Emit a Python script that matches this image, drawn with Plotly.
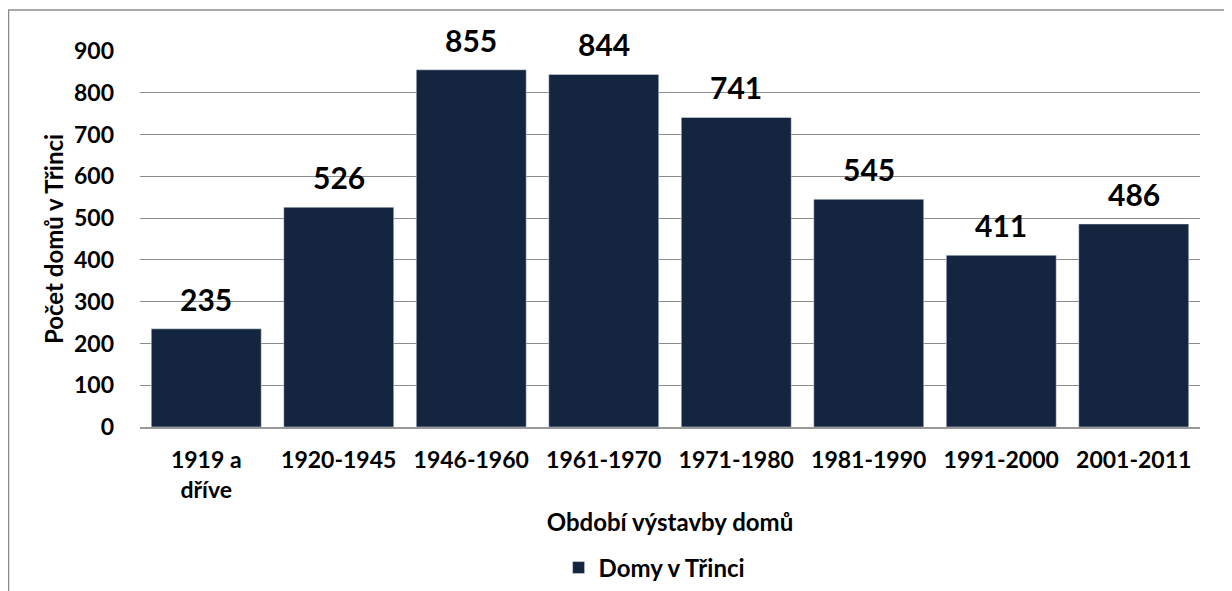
import plotly.graph_objects as go

categories = ["1919 a<br>dříve", "1920-1945", "1946-1960", "1961-1970", "1971-1980", "1981-1990", "1991-2000", "2001-2011"]
values = [235, 526, 855, 844, 741, 545, 411, 486]
series_name = "Domy v Třinci"
y_ticks = [0, 100, 200, 300, 400, 500, 600, 700, 800, 900]

FONT = "Lato, 'Open Sans', sans-serif"
BAR = "#13253f"

fig = go.Figure()
fig.add_trace(go.Bar(
    x=categories, y=values, name=series_name,
    marker=dict(color=BAR),
))

for c, v in zip(categories, values):
    fig.add_annotation(x=c, y=v, text=str(v), showarrow=False,
                       yanchor="bottom", yshift=10,
                       font=dict(family=FONT, size=30, color="#000000", weight="bold"))

W, H = 1224, 583
L, R, T, B = 132, 32, 43, 164
pw, ph = W - L - R, H - T - B
bx0 = (0.5 - L) / pw
by1 = 1 + (T - 2) / ph

fig.update_layout(
    width=W, height=H,
    margin=dict(l=L, r=R, t=T, b=B, autoexpand=False),
    plot_bgcolor="white", paper_bgcolor="white",
    bargap=0.17,
    font=dict(family=FONT, color="#000000"),
    showlegend=True,
    legend=dict(orientation="h", x=0.485, xanchor="center", y=-0.315, yanchor="top",
                font=dict(family=FONT, size=24, weight="bold"), itemwidth=30),
    xaxis=dict(
        tickfont=dict(family=FONT, size=23, weight="bold"),
        showline=True, linecolor="#999999", linewidth=1.5,
        ticks="", ticklabelstandoff=12,
        title=dict(text="Období výstavby domů", standoff=12,
                   font=dict(family=FONT, size=24, weight="bold")),
    ),
    yaxis=dict(
        range=[0, 900], tickvals=y_ticks,
        tickfont=dict(family=FONT, size=23, weight="bold"),
        showgrid=True, gridcolor="#8c8c8c", gridwidth=1,
        zeroline=False, ticks="", ticklabelstandoff=25,
        title=dict(text="Počet domů v Třinci", standoff=3,
                   font=dict(family=FONT, size=24, weight="bold")),
    ),
    shapes=[dict(type="rect", xref="paper", yref="paper",
                 x0=bx0, x1=1.2, y0=-1.0, y1=by1,
                 line=dict(color="#8c8c8c", width=1.5), layer="below")],
)

fig.write_html("out.html")
